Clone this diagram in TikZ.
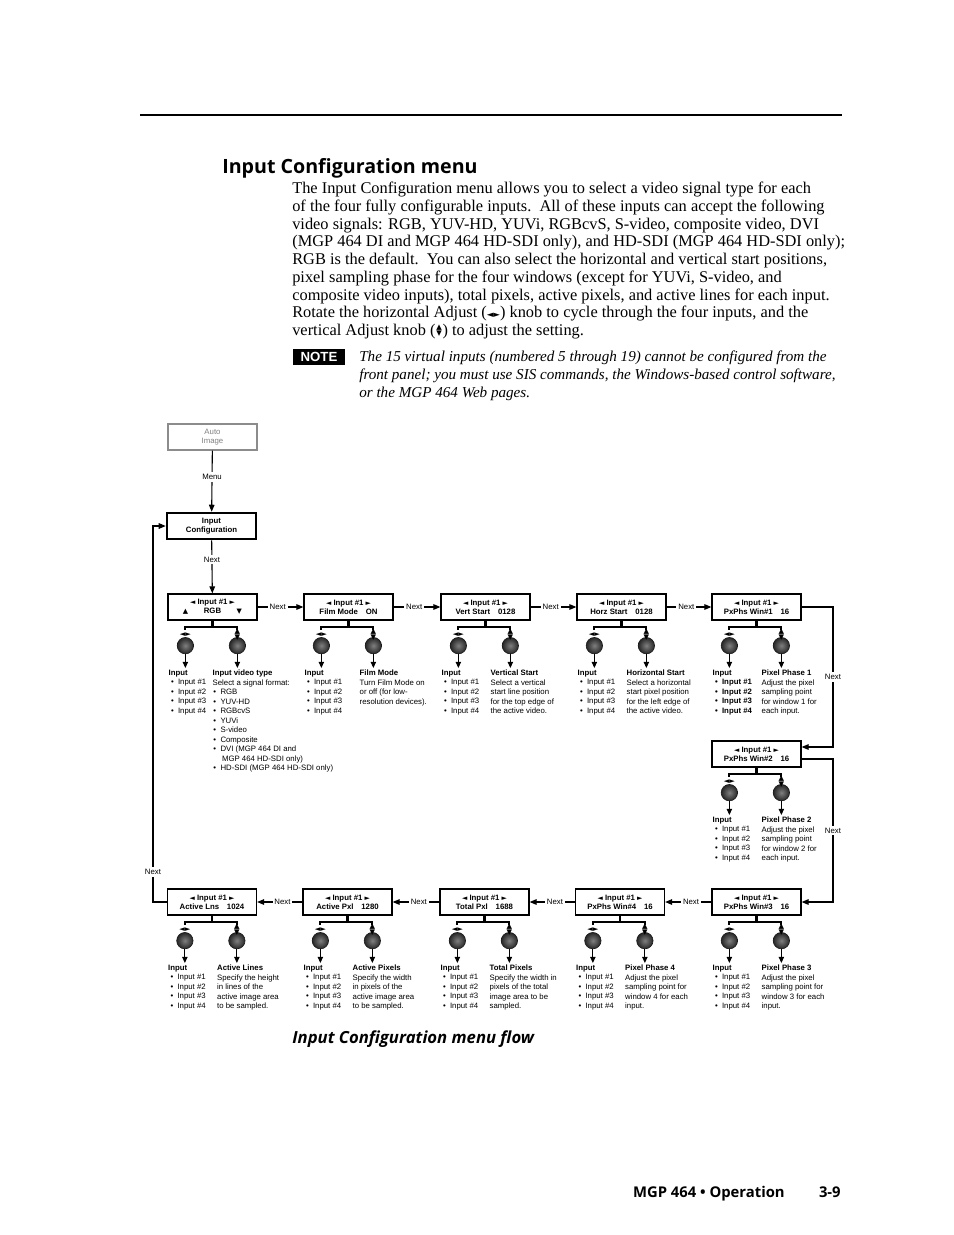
\documentclass[tikz,border=0pt]{standalone}
\usepackage{fontspec}
\setmainfont{Liberation Serif}
\newfontfamily\headfont{Open Sans}
\newfontfamily\diagfont{Liberation Sans}
\newfontfamily\symfont{DejaVu Sans}
\usetikzlibrary{arrows.meta,calc,positioning}

% small triangles of the front panel display
\newcommand{\tri}[1]{{\symfont\fontsize{4.4}{4.4}\selectfont #1}}
\newcommand{\lcdtop}{\tri{◄}\ Input \#1\ \tri{►}}
\newcommand{\updn}{\vbox{\offinterlineskip\hbox{▲}\kern0.1ex\hbox{▼}}}

% list of the four inputs
\newcommand{\inlist}{\textbf{Input}\\\hspace{1.5pt}• \ Input \#1\\\hspace{1.5pt}• \ Input \#2\\\hspace{1.5pt}• \ Input \#3\\\hspace{1.5pt}• \ Input \#4}
\newcommand{\inlistb}{\textbf{Input}\\\hspace{1.5pt}\textbf{• \ Input \#1}\\\hspace{1.5pt}\textbf{• \ Input \#2}\\\hspace{1.5pt}\textbf{• \ Input \#3}\\\hspace{1.5pt}\textbf{• \ Input \#4}}

% the two knobs, bracket and texts under a display box
\newcommand{\adjust}[4][-20]{%
  \node[knob] (#2h) at ($(#2.south west)+(18,25)$) {};
  \node[knob] (#2v) at ($(#2.south west)+(70,25)$) {};
  \draw[bracket] (#2.south) -- ++(0,6);
  \draw[bracket] ($(#2h)+(0,-16)$) |- ($(#2v)+(0,-19)$) -- ($(#2v)+(0,-16)$);
  \node[sym] (#2hs) at ($(#2h)+(0,-11)$) {◄►};
  \node[sym] (#2vs) at ($(#2v)+(0,-11)$) {\updn};
  \node[info] (#2in) at ($(#2h)+(-17,24)$) {#3};
  \node[info] (#2tx) at ($(#2v)+(#1,24)$) {#4};
  \draw[knobarrow] (#2h.south) -- (#2h.south |- #2in.north);
  \draw[knobarrow] (#2v.south) -- (#2v.south |- #2tx.north);
}

\begin{document}
\begin{tikzpicture}[x=0.6415pt, y=-0.6415pt,
  lcd/.style={draw, line width=0.8pt, minimum width=57.1pt, minimum height=16.7pt, inner sep=0pt, align=center, font=\diagfont\bfseries\fontsize{5}{5.9}\selectfont},
  knob/.style={circle, draw=black!90, line width=0.4pt, minimum size=10.5pt, inner sep=0pt, shade, shading=radial, inner color=black!50, outer color=black!85},
  bracket/.style={line width=1.3pt},
  sym/.style={inner sep=0pt, font=\symfont\fontsize{4.6}{4.6}\selectfont},
  info/.style={anchor=north west, inner sep=0pt, align=left, font=\diagfont\fontsize{5}{6.1}\selectfont},
  nextarrow/.style={line width=0.7pt, -{Triangle[length=4.5pt,width=3.6pt]}},
  knobarrow/.style={line width=0.7pt, shorten >=1pt, -{Triangle[length=4pt,width=3.4pt]}},
  lbl/.style={fill=white, inner sep=1.2pt, font=\diagfont\fontsize{5}{6}\selectfont}
]
\useasboundingbox (0,0) rectangle (954,1235);

% page head
\draw[line width=1.9pt] (140,115) -- (842,115);
\node[anchor=west, inner sep=0pt, font=\headfont\bfseries\fontsize{12.6}{14}\selectfont] (title) at (222,168) {Input Configuration menu};

\node[anchor=north west, inner sep=0pt, align=left, font=\fontsize{10.5}{11.36}\selectfont] (para) at (292,182) {%
The Input Configuration menu allows you to select a video signal type for each\\
of the four fully configurable inputs.\ \ All of these inputs can accept the following\\
video signals: RGB, YUV-HD, YUVi, RGBcvS, S-video, composite video, DVI\\
(MGP 464 DI and MGP 464 HD-SDI only), and HD-SDI (MGP 464 HD-SDI only);\\
RGB is the default.\ \ You can also select the horizontal and vertical start positions,\\
pixel sampling phase for the four windows (except for YUVi, S-video, and\\
composite video inputs), total pixels, active pixels, and active lines for each input.\\
Rotate the horizontal Adjust ({\symfont\fontsize{5.5}{5.5}\selectfont ◄►}) knob to cycle through the four inputs, and the\\
vertical Adjust knob (\kern0.5pt{\symfont\fontsize{4.6}{4.6}\selectfont\updn}\kern0.5pt) to adjust the setting.};

\node[fill=black, text=white, font=\diagfont\bfseries\fontsize{8.5}{9}\selectfont, minimum width=33.4pt, minimum height=10.3pt, inner sep=0pt] (notetag) at (319,357) {NOTE};
\node[anchor=north west, inner sep=0pt, align=left, font=\itshape\fontsize{9.7}{11.36}\selectfont] (note) at (359,351) {%
The 15 virtual inputs (numbered 5 through 19) cannot be configured from the\\
front panel; you must use SIS commands, the Windows-based control software,\\
or the MGP 464 Web pages.};

% entry into the menu
\node[lcd, draw=black!45, text=black!50, font=\diagfont\fontsize{5}{5.9}\selectfont] (auto) at (212.5,437) {Auto\\Image};
\node[lcd, line width=1.6pt] (cfg) at (211.5,526) {Input\\Configuration};
\draw[nextarrow] (auto) -- node[lbl, pos=0.43] (menu) {Menu} (cfg);

% first row
\node[lcd] (b1) at (212.5,607) {\lcdtop\\\tri{▲}\hspace{10pt}RGB\hspace{10pt}\tri{▼}};
\node[lcd] (b2) at (348.5,607) {\lcdtop\\Film Mode\hspace{5pt}ON};
\node[lcd] (b3) at (485.5,607) {\lcdtop\\Vert Start\hspace{5pt}0128};
\node[lcd] (b4) at (621.5,607) {\lcdtop\\Horz Start\hspace{5pt}0128};
\node[lcd] (b5) at (756.5,607) {\lcdtop\\PxPhs Win\#1\hspace{5pt}16};

% right column
\node[lcd] (b6) at (756.5,754) {\lcdtop\\PxPhs Win\#2\hspace{5pt}16};

% last row
\node[lcd] (b7) at (756.5,902) {\lcdtop\\PxPhs Win\#3\hspace{5pt}16};
\node[lcd] (b8) at (620,902) {\lcdtop\\PxPhs Win\#4\hspace{5pt}16};
\node[lcd] (b9) at (484.5,902) {\lcdtop\\Total Pxl\hspace{5pt}1688};
\node[lcd] (b10) at (347.5,902) {\lcdtop\\Active Pxl\hspace{5pt}1280};
\node[lcd] (b11) at (212,902) {\lcdtop\\Active Lns\hspace{5pt}1024};

% Next connectors
\draw[nextarrow] (cfg) -- node[lbl, pos=0.36] (cfgnext) {Next} (b1);
\foreach \a/\b in {b1/b2,b2/b3,b3/b4,b4/b5,b7/b8,b8/b9,b9/b10,b10/b11}
{
    \draw[nextarrow] (\a) -- node[lbl, pos=0.44] (\a next) {Next} (\b);
}
\coordinate (rx) at (833,0);
\coordinate (lx) at (153,0);
\draw[nextarrow] (b5.east) -- (b5.east -| rx) -- node[lbl] (b5next) {Next} ($(b6.east -| rx)+(0,-7)$) -- ($(b6.east)+(0,-7)$);
\draw[nextarrow] ($(b6.east)+(0,5)$) -- ($(b6.east -| rx)+(0,5)$) -- node[lbl] (b6next) {Next} (b7.east -| rx) -- (b7.east);
\draw[nextarrow] (b11.west) -- (b11.west -| lx) -- node[lbl, pos=0.08] (b11next) {Next} (cfg.west -| lx) -- (cfg.west);

% knobs and texts
\adjust[-25]{b1}{\inlist}{\textbf{Input video type}\\Select a signal format:\\\hspace{0.5pt}• \ RGB\\\hspace{0.5pt}• \ YUV-HD\\\hspace{0.5pt}• \ RGBcvS\\\hspace{0.5pt}• \ YUVi\\\hspace{0.5pt}• \ S-video\\\hspace{0.5pt}• \ Composite\\\hspace{0.5pt}• \ DVI (MGP 464 DI and\\\hspace{6pt}MGP 464 HD-SDI only)\\\hspace{0.5pt}• \ HD-SDI (MGP 464 HD-SDI only)}
\adjust[-14]{b2}{\inlist}{\textbf{Film Mode}\\Turn Film Mode on\\or off (for low-\\resolution devices).}
\adjust{b3}{\inlist}{\textbf{Vertical Start}\\Select a vertical\\start line position\\for the top edge of\\the active video.}
\adjust{b4}{\inlist}{\textbf{Horizontal Start}\\Select a horizontal\\start pixel position\\for the left edge of\\the active video.}
\adjust{b5}{\inlistb}{\textbf{Pixel Phase 1}\\Adjust the pixel\\sampling point\\for window 1 for\\each input.}
\adjust{b6}{\inlist}{\textbf{Pixel Phase 2}\\Adjust the pixel\\sampling point\\for window 2 for\\each input.}
\adjust{b7}{\inlist}{\textbf{Pixel Phase 3}\\Adjust the pixel\\sampling point for\\window 3 for each\\input.}
\adjust{b8}{\inlist}{\textbf{Pixel Phase 4}\\Adjust the pixel\\sampling point for\\window 4 for each\\input.}
\adjust{b9}{\inlist}{\textbf{Total Pixels}\\Specify the width in\\pixels of the total\\image area to be\\sampled.}
\adjust{b10}{\inlist}{\textbf{Active Pixels}\\Specify the width\\in pixels of the\\active image area\\to be sampled.}
\adjust{b11}{\inlist}{\textbf{Active Lines}\\Specify the height\\in lines of the\\active image area\\to be sampled.}

% caption and page foot
\node[anchor=west, inner sep=0pt, font=\headfont\bfseries\itshape\fontsize{10.7}{12}\selectfont] (caption) at (292,1039) {Input Configuration menu flow};
\node[anchor=base east, inner sep=0pt, font=\headfont\bfseries\fontsize{9.5}{11}\selectfont] (footer) at (785,1197) {MGP 464 • Operation};
\node[anchor=base east, inner sep=0pt, font=\headfont\bfseries\fontsize{9.5}{11}\selectfont] (pageno) at (841,1197) {3-9};

\end{tikzpicture}
\end{document}
